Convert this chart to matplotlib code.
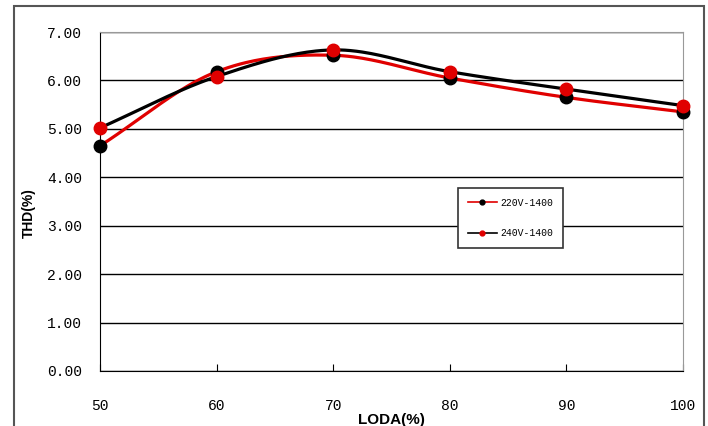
import numpy as np
import matplotlib
matplotlib.use("Agg")
import matplotlib.pyplot as plt
from matplotlib.lines import Line2D
from matplotlib.patches import Rectangle

load = [50, 60, 70, 80, 90, 100]
thd_220 = [4.65, 6.18, 6.52, 6.05, 5.65, 5.35]
thd_240 = [5.02, 6.08, 6.63, 6.18, 5.82, 5.48]
yticks = [0, 1, 2, 3, 4, 5, 6, 7]
ytick_labels = ["0.00", "1.00", "2.00", "3.00", "4.00", "5.00", "6.00", "7.00"]
series_names = ["220V-1400", "240V-1400"]


def catmull_rom(x, y, n=40):
    x = np.asarray(x, float)
    y = np.asarray(y, float)
    px = np.concatenate([[2 * x[0] - x[1]], x, [2 * x[-1] - x[-2]]])
    py = np.concatenate([[2 * y[0] - y[1]], y, [2 * y[-1] - y[-2]]])
    xs, ys = [], []
    for i in range(1, len(px) - 2):
        t = np.linspace(0, 1, n, endpoint=(i == len(px) - 3))
        for P, out in ((px, xs), (py, ys)):
            p0, p1, p2, p3 = P[i - 1], P[i], P[i + 1], P[i + 2]
            out.append(0.5 * ((2 * p1) + (-p0 + p2) * t
                              + (2 * p0 - 5 * p1 + 4 * p2 - p3) * t ** 2
                              + (-p0 + 3 * p1 - 3 * p2 + p3) * t ** 3))
    return np.concatenate(xs), np.concatenate(ys)


fig = plt.figure(figsize=(7.08, 4.26), dpi=100)
ax = fig.add_axes([100 / 708, 55 / 426, 583 / 708, 339 / 426])

# outer chart frame
fig.patches.append(Rectangle((14 / 708, -0.01), (704 - 14) / 708, 1 - 6 / 426 + 0.01,
                             transform=fig.transFigure, fill=False,
                             edgecolor="#555555", linewidth=1.5))

red = "#e00000"
sx, sy = catmull_rom(load, thd_220)
ax.plot(sx, sy, color=red, lw=2.3, zorder=3)
sx, sy = catmull_rom(load, thd_240)
ax.plot(sx, sy, color="black", lw=2.3, zorder=3)
ax.plot(load, thd_220, "o", color="black", ms=9, zorder=4, clip_on=False)
ax.plot(load, thd_240, "o", color=red, ms=9, zorder=5, clip_on=False)

ax.set_xlim(50, 100)
ax.set_ylim(0, 7)
ax.set_yticks(yticks)
ax.set_yticklabels(ytick_labels)
ax.set_xticks(load)
ax.set_xticklabels([str(v) for v in load])
ax.grid(axis="y", color="black", lw=1)
ax.set_axisbelow(True)
mono = "Liberation Mono"
for lab in ax.get_yticklabels() + ax.get_xticklabels():
    lab.set_fontfamily(mono)
    lab.set_fontsize(10.5)
ax.tick_params(axis="y", length=0, pad=13)
ax.tick_params(axis="x", direction="in", length=5, pad=20)
ax.spines["left"].set_color("black")
ax.spines["bottom"].set_color("black")
ax.spines["right"].set_color("#999999")
ax.spines["top"].set_color("#999999")
ax.set_xlabel("LODA(%)", fontfamily="Liberation Sans", fontweight="bold", fontsize=11, labelpad=0)
ax.set_ylabel("THD(%)", fontfamily="Liberation Sans", fontweight="bold", fontsize=10)
ax.yaxis.set_label_coords(-64 / 583, (371 - 213) / 339)

handles = [
    Line2D([], [], color=red, lw=1.2, marker="o", mfc="black", mec="black", ms=3.5),
    Line2D([], [], color="black", lw=1.2, marker="o", mfc=red, mec=red, ms=3.5),
]
leg = ax.legend(handles, series_names, loc="upper left",
                bbox_to_anchor=(358 / 583, (371 - 188) / 339), borderaxespad=0,
                fancybox=False, framealpha=1, edgecolor="#333333",
                handlelength=3.0, handletextpad=0.35,
                labelspacing=2.1, borderpad=1.0, prop={"family": mono, "size": 7})
leg.get_frame().set_linewidth(1.2)

fig.savefig("out.png", dpi=100)
